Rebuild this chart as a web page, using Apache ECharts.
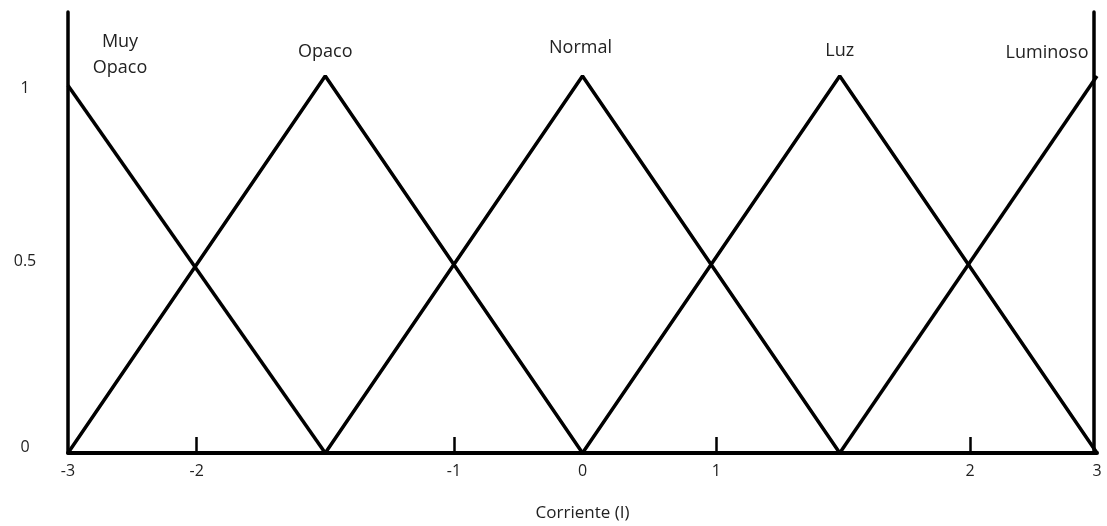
<!DOCTYPE html>
<html lang="es">
<head>
<meta charset="utf-8">
<title>Corriente (I)</title>
<script src="https://cdn.jsdelivr.net/npm/echarts@6/dist/echarts.min.js"></script>
<style>
html, body { margin: 0; padding: 0; background: #fff; }
#main { width: 1107px; height: 526px; }
</style>
</head>
<body>
<div id="main"></div>
<script>
// funciones de pertenencia (x, grado)
var muyOpaco = [[-3, 0.975], [-1.5, 0]];
var opaco = [[-3, 0], [-1.5, 1], [0, 0]];
var normal = [[-1.5, 0], [0, 1], [1.5, 0]];
var luz = [[0, 0], [1.5, 1], [3, 0]];
var luminoso = [[1.5, 0], [3, 1]];

var setNames = ['Muy\nOpaco', 'Opaco', 'Normal', 'Luz', 'Luminoso'];
var setData = [muyOpaco, opaco, normal, luz, luminoso];
var labelPoint = [0, 1, 1, 1, 1]; // punto que lleva el nombre

// marcas del eje x tal como estan dibujadas
var xTickPos = [-2.25, -0.75, 0.78, 2.26];
var xLabelPos = [-3, -2.25, -0.75, 0, 0.78, 2.26, 3];
var xLabelText = ['-3', '-2', '-1', '0', '1', '2', '3'];
var yLabelPos = [0.016, 0.507, 0.968];
var yLabelText = ['0', '0.5', '1'];

var font = 'Open Sans';
var labelStyle = [
	{ offset: [52, 0], distance: 5 },
	{ offset: [0, 0], distance: 11 },
	{ offset: [-2, 0], distance: 15 },
	{ offset: [0, 0], distance: 12 },
	{ offset: [-50, 0], distance: 10 }
];

var series = [];
for (var i = 0; i < setData.length; i++) {
	var pts = setData[i].map(function (p, k) {
		var item = { value: p };
		if (k === labelPoint[i]) {
			item.label = {
				show: true,
				position: 'top',
				formatter: setNames[i],
				offset: labelStyle[i].offset,
				distance: labelStyle[i].distance,
				color: '#222',
				fontFamily: font,
				fontSize: 18,
				lineHeight: 26
			};
		}
		return item;
	});
	series.push({
		type: 'line',
		name: setNames[i],
		data: pts,
		symbolSize: 0,
		showSymbol: true,
		silent: true,
		lineStyle: { color: '#000', width: 3.5 },
		z: 3
	});
}

var chart = echarts.init(document.getElementById('main'));
chart.setOption({
	animation: false,
	grid: { left: 68, right: 10, top: 12, bottom: 73, outerBoundsMode: 'none' },
	xAxis: {
		type: 'value',
		min: -3,
		max: 3,
		name: 'Corriente (I)',
		nameLocation: 'middle',
		nameGap: 52,
		nameTextStyle: { color: '#222', fontFamily: font, fontSize: 17 },
		axisLine: { show: true, onZero: false, lineStyle: { color: '#000', width: 4 } },
		axisTick: {
			show: true,
			inside: true,
			length: 16,
			customValues: xTickPos,
			lineStyle: { color: '#000', width: 2.5 }
		},
		axisLabel: {
			customValues: xLabelPos,
			margin: 10,
			color: '#222',
			fontFamily: font,
			fontSize: 16,
			formatter: function (v) {
				var k = xLabelPos.indexOf(v);
				return k >= 0 ? xLabelText[k] : '';
			}
		},
		splitLine: { show: false }
	},
	yAxis: [{
		type: 'value',
		min: 0,
		max: 1.17,
		axisLine: { show: true, onZero: false, lineStyle: { color: '#000', width: 3.5 } },
		axisTick: { show: false },
		axisLabel: {
			customValues: yLabelPos,
			margin: 43,
			align: 'center',
			color: '#222',
			fontFamily: font,
			fontSize: 16,
			formatter: function (v) {
				var k = yLabelPos.indexOf(v);
				return k >= 0 ? yLabelText[k] : '';
			}
		},
		splitLine: { show: false }
	}, {
		type: 'value',
		position: 'right',
		min: 0,
		max: 1.17,
		offset: -3,
		axisLine: { show: true, onZero: false, lineStyle: { color: '#000', width: 3.5 } },
		axisTick: { show: false },
		axisLabel: { show: false },
		splitLine: { show: false }
	}],
	series: series
});
</script>
</body>
</html>
